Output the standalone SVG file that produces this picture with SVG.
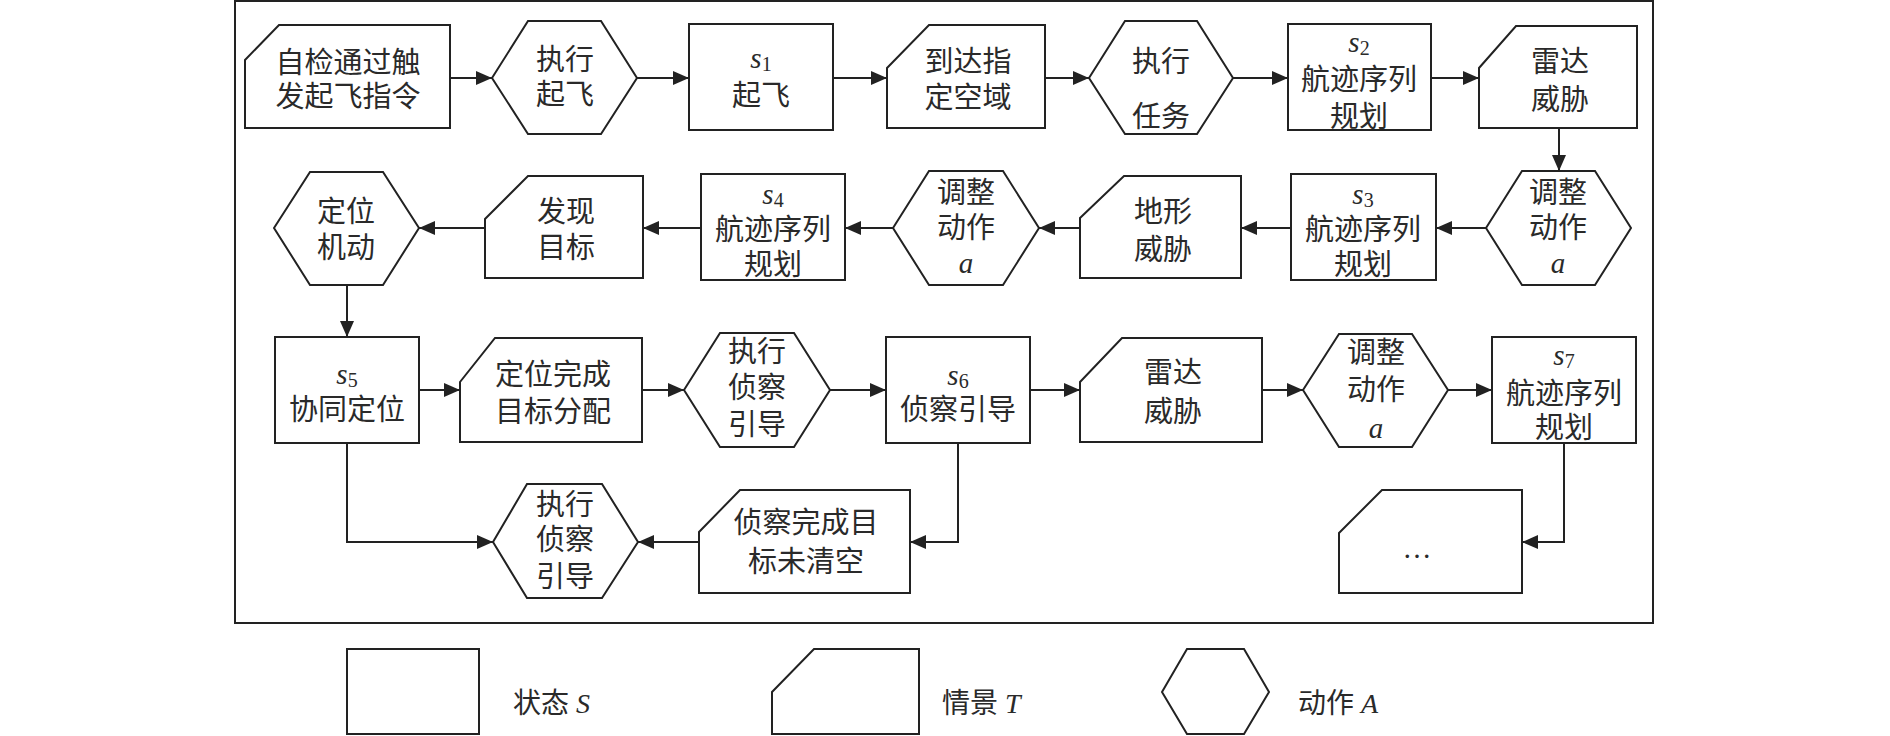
<svg xmlns="http://www.w3.org/2000/svg" width="1890" height="736" viewBox="0 0 1890 736">
<style>
.n{fill:#fff;stroke:#222;stroke-width:2}
.t{font-family:"Liberation Serif","Noto Sans CJK SC","Noto Sans CJK JP",serif;font-size:29px;text-anchor:middle;dominant-baseline:central;fill:#2a2a2a}
.i{font-family:"Liberation Serif",serif;font-style:italic}
.sub{font-family:"Liberation Serif",serif;font-style:normal;font-size:20px}
.c{fill:none;stroke:#222;stroke-width:2}
.lg{font-family:"Liberation Serif","Noto Sans CJK SC","Noto Sans CJK JP",serif;font-size:28px;dominant-baseline:central;fill:#2a2a2a}
</style>
<defs>
<marker id="ah" markerUnits="userSpaceOnUse" markerWidth="16" markerHeight="14" refX="16" refY="7" orient="auto">
<path d="M0,0 L16,7 L0,14 z" fill="#222"/>
</marker>
</defs>
<rect x="235" y="1" width="1418" height="622" fill="none" stroke="#222" stroke-width="2"/>

<g id="t1"><path class="n" d="M245,60 L279,25 L450,25 L450,128 L245,128 Z"/>
<text class="t" x="348" y="63">自检通过触</text><text class="t" x="348" y="97">发起飞指令</text></g>
<g id="a1"><path class="n" d="M492,78 L528,21 L601,21 L637,78 L601,134 L528,134 Z"/>
<text class="t" x="565" y="60">执行</text><text class="t" x="565" y="95">起飞</text></g>
<g id="s1"><rect class="n" x="689" y="24" width="144" height="106"/>
<text class="t" x="761" y="58"><tspan class="i">s</tspan><tspan class="sub" dy="6">1</tspan></text><text class="t" x="761" y="96">起飞</text></g>
<g id="t2"><path class="n" d="M887,68 L929,25 L1045,25 L1045,128 L887,128 Z"/>
<text class="t" x="968" y="62">到达指</text><text class="t" x="968" y="98">定空域</text></g>
<g id="a2"><path class="n" d="M1089,78 L1125,21 L1197,21 L1233,78 L1197,134 L1125,134 Z"/>
<text class="t" x="1161" y="62">执行</text><text class="t" x="1161" y="117">任务</text></g>
<g id="s2"><rect class="n" x="1288" y="24" width="143" height="106"/>
<text class="t" x="1359" y="42"><tspan class="i">s</tspan><tspan class="sub" dy="6">2</tspan></text><text class="t" x="1359" y="80">航迹序列</text><text class="t" x="1359" y="117">规划</text></g>
<g id="t3"><path class="n" d="M1479,68 L1516,26 L1637,26 L1637,128 L1479,128 Z"/>
<text class="t" x="1560" y="62">雷达</text><text class="t" x="1560" y="100">威胁</text></g>

<g id="a3"><path class="n" d="M1486,228 L1522,171 L1595,171 L1631,228 L1595,285 L1522,285 Z"/>
<text class="t" x="1558" y="193">调整</text><text class="t" x="1558" y="228">动作</text><text class="t i" x="1558" y="263">a</text></g>
<g id="s3"><rect class="n" x="1291" y="174" width="145" height="106"/>
<text class="t" x="1363" y="194"><tspan class="i">s</tspan><tspan class="sub" dy="6">3</tspan></text><text class="t" x="1363" y="230">航迹序列</text><text class="t" x="1363" y="265">规划</text></g>
<g id="t4"><path class="n" d="M1080,218 L1124,176 L1241,176 L1241,278 L1080,278 Z"/>
<text class="t" x="1163" y="212">地形</text><text class="t" x="1163" y="250">威胁</text></g>
<g id="a4"><path class="n" d="M893,228 L929,171 L1003,171 L1039,228 L1003,285 L929,285 Z"/>
<text class="t" x="966" y="193">调整</text><text class="t" x="966" y="228">动作</text><text class="t i" x="966" y="263">a</text></g>
<g id="s4"><rect class="n" x="701" y="174" width="144" height="106"/>
<text class="t" x="773" y="194"><tspan class="i">s</tspan><tspan class="sub" dy="6">4</tspan></text><text class="t" x="773" y="230">航迹序列</text><text class="t" x="773" y="265">规划</text></g>
<g id="t5"><path class="n" d="M485,219 L528,176 L643,176 L643,278 L485,278 Z"/>
<text class="t" x="566" y="212">发现</text><text class="t" x="566" y="248">目标</text></g>
<g id="a5"><path class="n" d="M274,228 L310,172 L383,172 L419,228 L383,285 L310,285 Z"/>
<text class="t" x="346" y="212">定位</text><text class="t" x="346" y="248">机动</text></g>

<g id="s5"><rect class="n" x="275" y="337" width="144" height="106"/>
<text class="t" x="347" y="374"><tspan class="i">s</tspan><tspan class="sub" dy="6">5</tspan></text><text class="t" x="347" y="410">协同定位</text></g>
<g id="t6"><path class="n" d="M460,382 L495,338 L642,338 L642,442 L460,442 Z"/>
<text class="t" x="553" y="375">定位完成</text><text class="t" x="553" y="412">目标分配</text></g>
<g id="a6"><path class="n" d="M684,390 L720,333 L794,333 L830,390 L794,447 L720,447 Z"/>
<text class="t" x="757" y="352">执行</text><text class="t" x="757" y="388">侦察</text><text class="t" x="757" y="425">引导</text></g>
<g id="s6"><rect class="n" x="886" y="337" width="144" height="106"/>
<text class="t" x="958" y="375"><tspan class="i">s</tspan><tspan class="sub" dy="6">6</tspan></text><text class="t" x="958" y="410">侦察引导</text></g>
<g id="t7"><path class="n" d="M1080,382 L1122,338 L1262,338 L1262,442 L1080,442 Z"/>
<text class="t" x="1173" y="373">雷达</text><text class="t" x="1173" y="412">威胁</text></g>
<g id="a7"><path class="n" d="M1303,390 L1339,334 L1412,334 L1448,390 L1412,447 L1339,447 Z"/>
<text class="t" x="1376" y="353">调整</text><text class="t" x="1376" y="390">动作</text><text class="t i" x="1376" y="428">a</text></g>
<g id="s7"><rect class="n" x="1492" y="337" width="144" height="106"/>
<text class="t" x="1564" y="355"><tspan class="i">s</tspan><tspan class="sub" dy="6">7</tspan></text><text class="t" x="1564" y="394">航迹序列</text><text class="t" x="1564" y="428">规划</text></g>

<g id="a8"><path class="n" d="M493,542 L527,484 L602,484 L638,542 L602,598 L527,598 Z"/>
<text class="t" x="565" y="505">执行</text><text class="t" x="565" y="540">侦察</text><text class="t" x="565" y="577">引导</text></g>
<g id="t8"><path class="n" d="M699,532 L740,490 L910,490 L910,593 L699,593 Z"/>
<text class="t" x="806" y="523">侦察完成目</text><text class="t" x="806" y="562">标未清空</text></g>
<g id="t9"><path class="n" d="M1339,533 L1382,490 L1522,490 L1522,593 L1339,593 Z"/>
<text class="t" x="1417" y="548">…</text></g>

<g id="connectors">
<path class="c" marker-end="url(#ah)" d="M450,78 L492,78"/>
<path class="c" marker-end="url(#ah)" d="M637,78 L689,78"/>
<path class="c" marker-end="url(#ah)" d="M833,78 L887,78"/>
<path class="c" marker-end="url(#ah)" d="M1045,78 L1089,78"/>
<path class="c" marker-end="url(#ah)" d="M1233,78 L1288,78"/>
<path class="c" marker-end="url(#ah)" d="M1431,78 L1479,78"/>
<path class="c" marker-end="url(#ah)" d="M1559,128 L1559,171"/>
<path class="c" marker-end="url(#ah)" d="M1486,228 L1436,228"/>
<path class="c" marker-end="url(#ah)" d="M1291,228 L1241,228"/>
<path class="c" marker-end="url(#ah)" d="M1080,228 L1039,228"/>
<path class="c" marker-end="url(#ah)" d="M893,228 L845,228"/>
<path class="c" marker-end="url(#ah)" d="M701,228 L643,228"/>
<path class="c" marker-end="url(#ah)" d="M485,228 L419,228"/>
<path class="c" marker-end="url(#ah)" d="M347,285 L347,337"/>
<path class="c" marker-end="url(#ah)" d="M419,390 L460,390"/>
<path class="c" marker-end="url(#ah)" d="M642,390 L684,390"/>
<path class="c" marker-end="url(#ah)" d="M830,390 L886,390"/>
<path class="c" marker-end="url(#ah)" d="M1030,390 L1080,390"/>
<path class="c" marker-end="url(#ah)" d="M1262,390 L1303,390"/>
<path class="c" marker-end="url(#ah)" d="M1448,390 L1492,390"/>
<path class="c" marker-end="url(#ah)" d="M347,443 L347,542 L493,542"/>
<path class="c" marker-end="url(#ah)" d="M958,443 L958,542 L910,542"/>
<path class="c" marker-end="url(#ah)" d="M699,542 L638,542"/>
<path class="c" marker-end="url(#ah)" d="M1564,443 L1564,542 L1522,542"/>
</g>

<g id="legend">
<rect class="n" x="347" y="649" width="132" height="85"/>
<text class="lg" x="513" y="703">状态 <tspan class="i">S</tspan></text>
<path class="n" d="M772,692 L814,649 L919,649 L919,734 L772,734 Z"/>
<text class="lg" x="942" y="703">情景 <tspan class="i">T</tspan></text>
<path class="n" d="M1162,692 L1187,649 L1244,649 L1269,692 L1244,734 L1187,734 Z"/>
<text class="lg" x="1298" y="703">动作 <tspan class="i">A</tspan></text>
</g>
</svg>
